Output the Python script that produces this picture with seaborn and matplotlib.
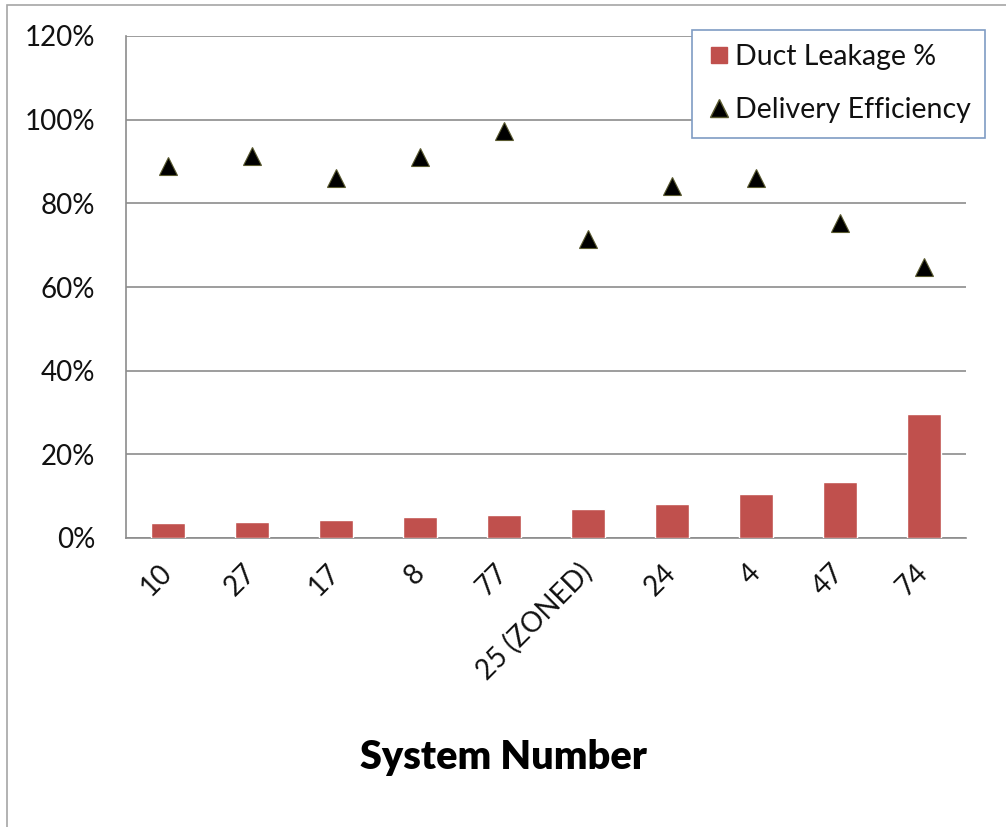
import numpy as np
import pandas as pd
import matplotlib.pyplot as plt
import seaborn as sns
from matplotlib.lines import Line2D
from matplotlib.patches import Rectangle
from matplotlib.ticker import PercentFormatter

# dados
sistemas = ['10', '27', '17', '8', '77', '25 (ZONED)', '24', '4', '47', '74']
vazamento = [3.5, 3.9, 4.3, 5.1, 5.5, 7.0, 8.1, 10.4, 13.5, 29.7]
eficiencia = [89.0, 91.4, 86.1, 91.0, 97.4, 71.4, 84.1, 86.1, 75.4, 64.8]

df = pd.DataFrame({'Sistema': sistemas, 'Vazamento': vazamento, 'Eficiencia': eficiencia})

sns.set_style('white')
plt.rcParams['font.family'] = ['Lato', 'DejaVu Sans']
plt.rcParams['text.color'] = '#111111'
plt.rcParams['xtick.labelcolor'] = '#111111'
plt.rcParams['ytick.labelcolor'] = '#111111'

fig = plt.figure(figsize=(10.06, 8.27), dpi=100)
ax = fig.add_axes([126 / 1006, 1 - 538 / 827, 840 / 1006, 502 / 827])

cor_grade = '#8c8c8c'

# barras
sns.barplot(data=df, x='Sistema', y='Vazamento', color='#c0504d', width=0.4,
            saturation=1, ax=ax, zorder=3)

# triangulos
sns.pointplot(data=df, x='Sistema', y='Eficiencia', color='black', markers='^',
              linestyles='none', markersize=13.5, markeredgecolor='#5a5a30',
              markeredgewidth=0.8, errorbar=None, ax=ax, zorder=4)

ax.set_xlim(-0.5, len(sistemas) - 0.5)
ax.set_ylim(0, 120)
ax.set_yticks(np.arange(0, 121, 20))
ax.yaxis.set_major_formatter(PercentFormatter(decimals=0))
ax.grid(axis='y', color=cor_grade, linewidth=1.2, zorder=0)
ax.set_axisbelow(True)

for lado in ['top', 'right']:
    ax.spines[lado].set_visible(False)
for lado in ['left', 'bottom']:
    ax.spines[lado].set_color(cor_grade)
    ax.spines[lado].set_linewidth(1.2)

# ticks do eixo x nas divisas entre categorias
ax.set_xticks(np.arange(len(sistemas)))
ax.set_xticklabels(sistemas, rotation=45, ha='right', va='center',
                   rotation_mode='anchor', fontsize=20)
ax.set_xticks(np.arange(-0.5, len(sistemas)), minor=True)
ax.tick_params(axis='x', which='major', length=0, pad=22)
ax.tick_params(axis='x', which='minor', length=7.5, width=1.2, color=cor_grade)
ax.tick_params(axis='y', length=9, width=1.2, color=cor_grade, labelsize=20, pad=13)
ax.set_xlabel('')
ax.set_ylabel('')

fig.text(0.5, 1 - 757 / 827, 'System Number', ha='center', va='center',
         fontsize=28.5, fontweight='heavy', color='black')

# legenda
itens = [
    Line2D([], [], marker='s', linestyle='none', color='#c0504d', markersize=12),
    Line2D([], [], marker='^', linestyle='none', color='black',
           markeredgecolor='#5a5a30', markersize=13),
]
leg = fig.legend(itens, ['Duct Leakage %', 'Delivery Efficiency'],
                 loc='upper right', bbox_to_anchor=(985 / 1006, 1 - 30 / 827),
                 fontsize=20.5, frameon=True, fancybox=False, framealpha=1,
                 edgecolor='#7f9cc4', handletextpad=0.1, handlelength=0.9,
                 borderpad=0.5, labelspacing=0.95, borderaxespad=0)
leg.get_frame().set_linewidth(1.2)

# moldura externa
fig.patches.append(Rectangle((7 / 1006, -0.1), 1.5, 1.1 - 4.7 / 827, transform=fig.transFigure,
                             fill=False, edgecolor='#a6a6a6', linewidth=1.2))

plt.savefig('out.png', dpi=100)
